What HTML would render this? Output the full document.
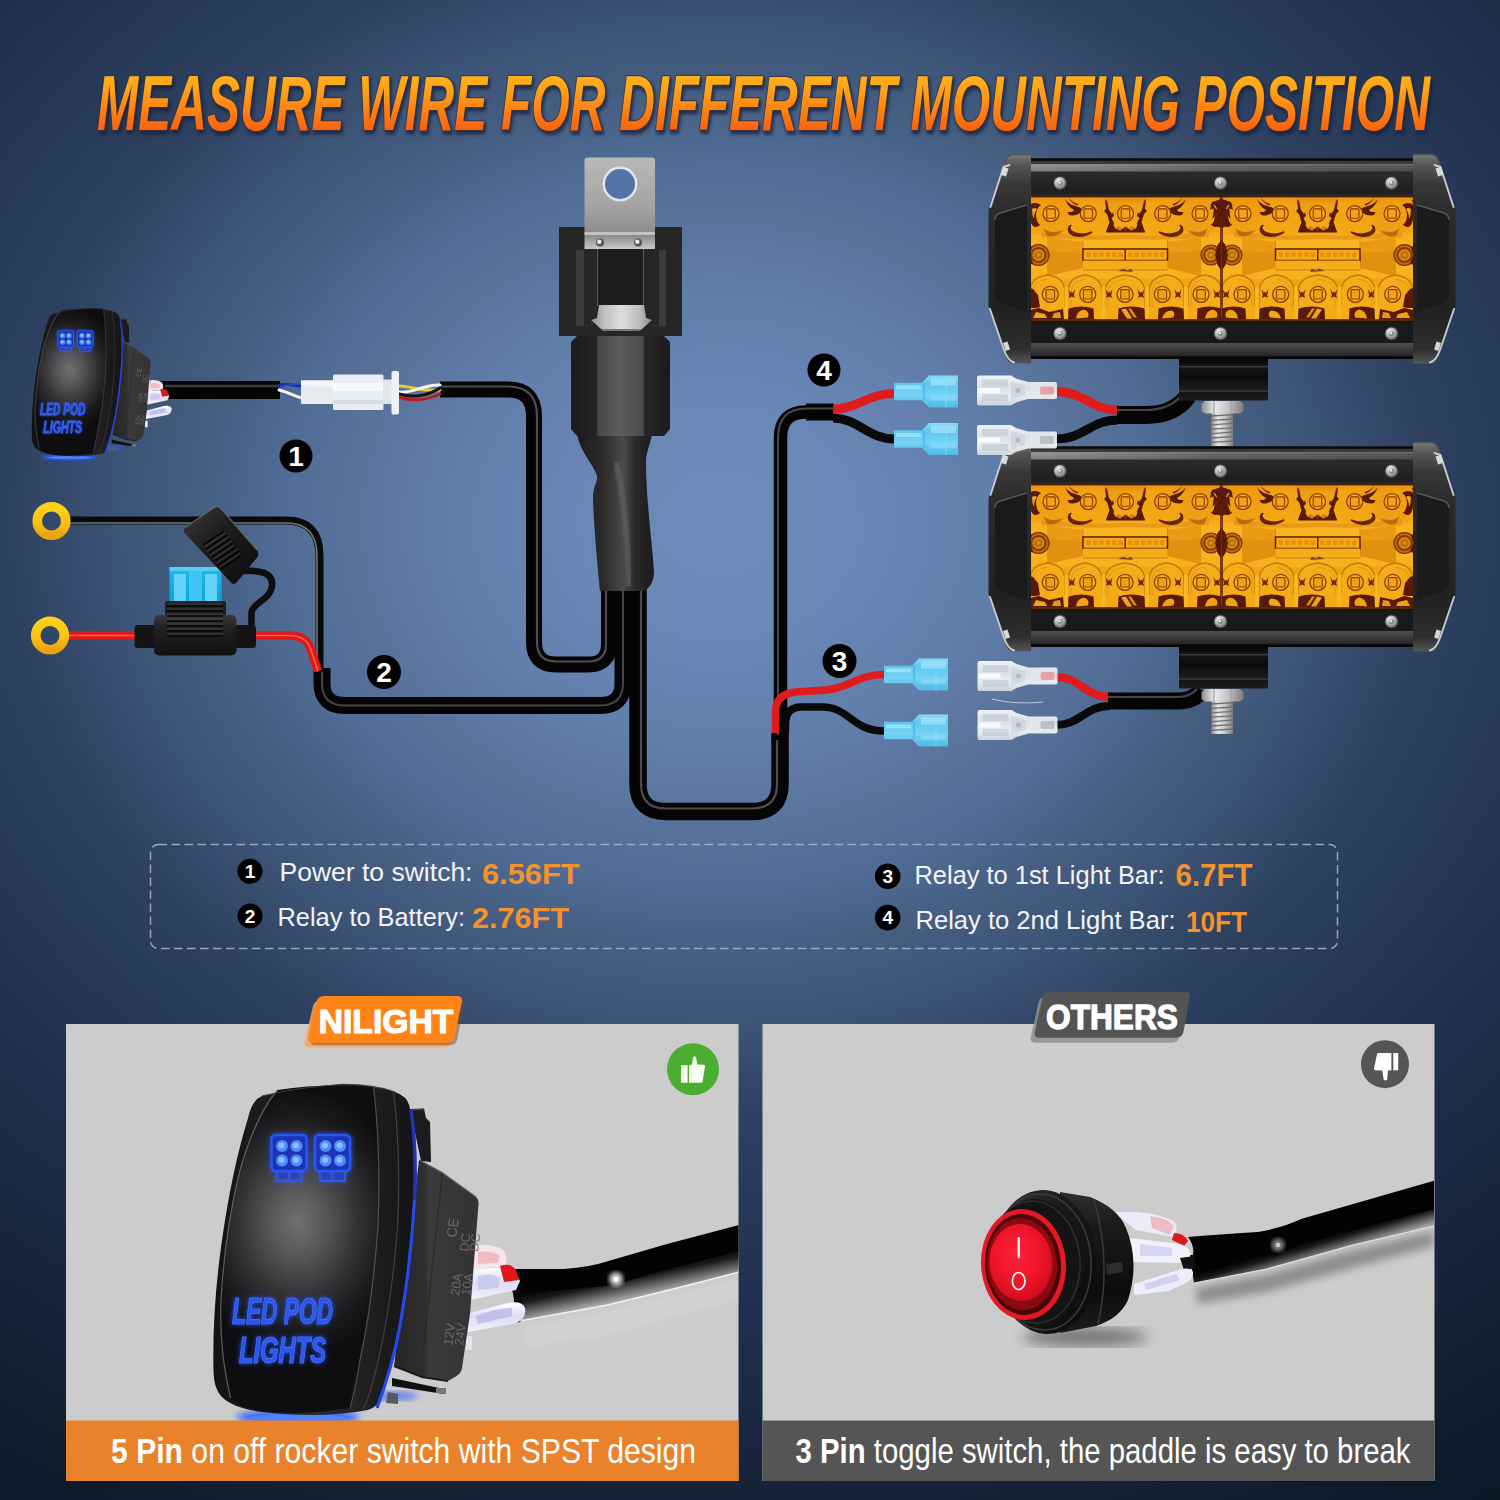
<!DOCTYPE html>
<html><head><meta charset="utf-8"><title>Measure wire for different mounting position</title>
<style>
html,body{margin:0;padding:0;background:#1c2d4a;}
body{width:1500px;height:1500px;overflow:hidden;font-family:"Liberation Sans",sans-serif;}
svg{display:block;font-family:"Liberation Sans",sans-serif;}
</style></head>
<body>
<svg width="1500" height="1500" viewBox="0 0 1500 1500">

<!-- 01_bg.svg -->
<defs>
<radialGradient id="bgG" gradientUnits="userSpaceOnUse" cx="0" cy="0" r="1200" gradientTransform="translate(720,523) scale(1.2,1)">
<stop offset="0.0000" stop-color="rgb(110, 138, 185)"/>
<stop offset="0.0833" stop-color="rgb(108, 136, 183)"/>
<stop offset="0.1858" stop-color="rgb(98, 126, 171)"/>
<stop offset="0.2600" stop-color="rgb(88, 114, 154)"/>
<stop offset="0.3025" stop-color="rgb(81, 109, 150)"/>
<stop offset="0.3642" stop-color="rgb(69, 93, 128)"/>
<stop offset="0.4192" stop-color="rgb(60, 84, 118)"/>
<stop offset="0.4908" stop-color="rgb(46, 65, 96)"/>
<stop offset="0.6633" stop-color="rgb(29, 47, 76)"/>
<stop offset="0.8058" stop-color="rgb(22, 36, 56)"/>
<stop offset="0.9125" stop-color="rgb(14, 27, 42)"/>
<stop offset="1.0000" stop-color="rgb(12, 23, 37)"/>
</radialGradient>
</defs>
<rect x="0" y="0" width="1500" height="1500" fill="url(#bgG)"/>

<!-- 10_title.svg -->
<defs>
<linearGradient id="ttlG" gradientUnits="userSpaceOnUse" x1="0" y1="0" x2="0" y2="57.0"><stop offset="0" stop-color="#ffb41c"/><stop offset=".3" stop-color="#ffa218"/><stop offset=".65" stop-color="#ff8212"/><stop offset="1" stop-color="#fa620e"/></linearGradient>
<filter id="ttlSh" x="-2%" y="-20%" width="104%" height="150%"><feGaussianBlur stdDeviation="1.6"/></filter>
<g id="ttl"><g transform="translate(0,73)"><text x="97" y="57" font-family="'Liberation Sans', sans-serif" font-size="78" font-weight="bold" font-style="italic" textLength="1333" lengthAdjust="spacingAndGlyphs">MEASURE WIRE FOR DIFFERENT MOUNTING POSITION</text></g></g>
</defs>
<use href="#ttl" fill="#13203c" stroke="#13203c" stroke-width="3" stroke-linejoin="round" opacity=".75" transform="translate(1.5,3)" filter="url(#ttlSh)"/>
<use href="#ttl" fill="#3a3340" stroke="#3a3340" stroke-width="2.4" stroke-linejoin="round" opacity=".8"/>
<use href="#ttl" fill="url(#ttlG)" />

<!-- 20_wires.svg -->
<defs>
<linearGradient id="cabV" x1="0" x2="1" y1="0" y2="0"><stop offset="0" stop-color="#000"/><stop offset=".5" stop-color="#3a3a3a"/><stop offset="1" stop-color="#000"/></linearGradient>
</defs>
<g fill="none" stroke-linecap="butt" stroke-linejoin="round">
<!-- cable from switch to connector -->
<path d="M160,390 L280,390" stroke="#050505" stroke-width="18"/>
<path d="M165,386 L279,386" stroke="#555" stroke-width="2.5" opacity=".7"/>
<!-- cable from connector to relay (loop) -->
<path id="cabA" d="M440,389.5 L508,389.5 Q534,389.5 534,416 L534,642 Q534,664.5 556,664.5 L588,664.5 Q609,664.5 609,644 L609,585" stroke="#050505" stroke-width="16"/>
<path d="M440,386.5 L508,386.5 Q537,386.5 537,416 L537,642 Q537,661.5 556,661.5 L588,661.5 Q606,661.5 606,644 L606,585" stroke="#666" stroke-width="2.2" opacity=".75"/>
<!-- cable 2 (battery) -->
<path d="M322,668 L322,683 Q322,705.5 345,705.5 L600,705.5 Q623,705.5 623,683 L623,585" stroke="#050505" stroke-width="17"/>
<path d="M322,668 L322,683 Q322,705.5 345,705.5 L600,705.5 Q623,705.5 623,683 L623,585" stroke="#555" stroke-width="2" opacity=".8"/>
<!-- cable to lights -->
<path d="M780.5,740 L780.5,438 Q780.5,412 806,412 L834,412" stroke="#050505" stroke-width="13.5"/>
<path d="M806,412 L834,412" stroke="#050505" stroke-width="17"/>
<path d="M638,583 L638,784 Q638,811.5 666,811.5 L752,811.5 Q780,811.5 780,784 L780,733" stroke="#050505" stroke-width="17.5"/>
<path d="M641,583 L641,784 Q641,808.5 666,808.5 L752,808.5 Q777,808.5 777,784 L777,740" stroke="#666" stroke-width="2.2" opacity=".75"/>
<path d="M778,735 L778,438 Q778,409 806,408.5 L834,408.5" stroke="#666" stroke-width="2" opacity=".7"/>
<!-- ring-terminal black wire -->
<path d="M70,520.5 L286,520.5 Q319.5,520.5 319.5,556 L319.5,672" stroke="#0a0a0a" stroke-width="8"/>
<path d="M70,523 L286,523 Q317,523 317,556 L317,672" stroke="#9aa" stroke-width="1.6" opacity=".7"/>
<!-- red fuse wire -->
<path d="M68,635.5 L136,635.5 M255,635.5 L290,635.5 Q307,636 311,650 L318,671" stroke="#e01818" stroke-width="8.5"/>
<path d="M68,635.5 L136,635.5 M255,635.5 L290,635.5 Q307,636 311,650 L318,671" stroke="#ff7060" stroke-width="1.6" opacity=".8"/>
<!-- group 4 split wires -->
<path d="M833,409 C858,409 868,393.5 894,393.5" stroke="#e01b1b" stroke-width="9"/>
<path d="M833,418 C858,418 868,439 894,439" stroke="#0a0a0a" stroke-width="9"/>
<path d="M1055,391.5 C1085,391.5 1090,410 1118,410" stroke="#e01b1b" stroke-width="9"/>
<path d="M1055,439 C1085,439 1090,420 1118,420" stroke="#0a0a0a" stroke-width="9"/>
<path d="M1117,415 L1146,415 Q1174,415 1188,396" stroke="#050505" stroke-width="18"/>
<path d="M1117,410 L1146,410 Q1168,410 1180,397" stroke="#555" stroke-width="2.2" opacity=".8"/>
<!-- group 3 split wires -->
<path d="M775.5,733 L775.5,712 Q775.5,694 796,692 L826,690 C850,688 858,674.5 884,674.5" stroke="#e01b1b" stroke-width="7.5"/>
<path d="M785.5,733 L785.5,722 Q786,708 800,707 L822,707 C850,707 852,731 884,731" stroke="#0a0a0a" stroke-width="7.5"/>
<path d="M1056,677 C1080,677 1085,697 1110,697" stroke="#e01b1b" stroke-width="8"/>
<path d="M1056,725 C1080,725 1085,706 1110,706" stroke="#0a0a0a" stroke-width="8"/>
<path d="M1108,701 L1178,701 Q1194,701 1202,690" stroke="#050505" stroke-width="17"/>
<path d="M1108,697 L1178,697 Q1190,697 1197,689" stroke="#555" stroke-width="2.2" opacity=".8"/>
</g>

<!-- 30_relay.svg -->
<defs>
<linearGradient id="tabG" x1="0" x2="0" y1="0" y2="1"><stop offset="0" stop-color="#b9b9b7"/><stop offset=".55" stop-color="#a3a3a1"/><stop offset=".85" stop-color="#8a8a88"/><stop offset="1" stop-color="#c9c9c7"/></linearGradient>
<linearGradient id="lowG" x1="0" x2="1" y1="0" y2="0"><stop offset="0" stop-color="#1c1c1c"/><stop offset=".26" stop-color="#252525"/><stop offset=".27" stop-color="#474747"/><stop offset=".5" stop-color="#5c5c5c"/><stop offset=".73" stop-color="#4a4a4a"/><stop offset=".74" stop-color="#262626"/><stop offset="1" stop-color="#1b1b1b"/></linearGradient>
<linearGradient id="shG" x1="0" x2="1" y1="0" y2="0"><stop offset="0" stop-color="#1d1d1d"/><stop offset=".35" stop-color="#2b2b2b"/><stop offset=".6" stop-color="#4a4a4a"/><stop offset=".75" stop-color="#2a2a2a"/><stop offset="1" stop-color="#1a1a1a"/></linearGradient>
<linearGradient id="silG" x1="0" x2="1" y1="0" y2="0"><stop offset="0" stop-color="#8e8e8e"/><stop offset=".2" stop-color="#bdbdbd"/><stop offset=".5" stop-color="#dedede"/><stop offset=".8" stop-color="#bcbcbc"/><stop offset="1" stop-color="#8a8a8a"/></linearGradient>
</defs>
<g>
<!-- sheath -->
<path d="M577,434 L652,434 C650,446 646,452 646,462 C646,500 652,540 654,572 C654,580 651,586 645,591 L600,591 C598,570 594,530 593,498 C593,486 598,482 597,476 C592,462 580,452 577,434 Z" fill="url(#shG)"/>
<path d="M616,462 C625,500 628,540 629,586" stroke="#666" stroke-width="6" fill="none" opacity=".6" filter="url(#blur1)"/>
<!-- lower body -->
<path d="M571,342 L577,336 L664,336 L670,342 L670,429 L664,436 L577,436 L571,429 Z" fill="url(#lowG)"/>
<path d="M597,340 L643,340 L643,437 L597,437 Z" fill="none"/>
<!-- upper body -->
<rect x="559" y="227" width="123" height="109" fill="#262626"/>
<rect x="576" y="250" width="8" height="76" fill="#3c3c3c"/>
<rect x="659" y="250" width="7" height="76" fill="#3c3c3c"/>
<rect x="597" y="249" width="47" height="57" fill="#1d1d1d"/>
<path d="M597.5,249 L597.5,306 M643.5,249 L643.5,306" stroke="#5a5a5a" stroke-width="1"/>
<path d="M576,326 L592,326 L592,322 M666,326 L650,326" stroke="#333" stroke-width="1" fill="none"/>
<!-- silver contact -->
<path d="M599,305 L644,305 L646,318 L652,320 L642,329 L601,329 L591,320 L597,318 Z" fill="url(#silG)"/>
<path d="M601,329 L642,329 L640,331 L603,331 Z" fill="#777"/>
<!-- metal tab -->
<path d="M584.5,160 Q584.5,157.5 587,157.5 L652.5,157.5 Q655,157.5 655,160 L655,249 L584.5,249 Z" fill="url(#tabG)"/>
<rect x="584.5" y="232" width="70.5" height="3" fill="#d8d8d6" opacity=".7"/>
<circle cx="620" cy="184" r="17.5" fill="#dfe6f2"/>
<circle cx="620" cy="184" r="15" fill="#5473a6"/>
<circle cx="600" cy="242.5" r="4" fill="#555"/><circle cx="599.3" cy="241.8" r="2.2" fill="#e8e8e8"/>
<circle cx="638" cy="242.5" r="4" fill="#555"/><circle cx="637.3" cy="241.8" r="2.2" fill="#e8e8e8"/>
</g>

<!-- 32_fuse.svg -->
<defs>
<linearGradient id="ringG" x1="0" x2="0" y1="0" y2="1"><stop offset="0" stop-color="#ffd21a"/><stop offset=".6" stop-color="#fcc012"/><stop offset="1" stop-color="#e9a30c"/></linearGradient>
<linearGradient id="fuseB" x1="0" x2="0" y1="0" y2="1"><stop offset="0" stop-color="#22b8ee"/><stop offset="1" stop-color="#0aa2dc"/></linearGradient>
<linearGradient id="holdG" x1="0" x2="0" y1="0" y2="1"><stop offset="0" stop-color="#3a3a3a"/><stop offset=".3" stop-color="#222"/><stop offset="1" stop-color="#111"/></linearGradient>
<linearGradient id="capG" x1="0" x2="1" y1="0" y2="1"><stop offset="0" stop-color="#3c3c3c"/><stop offset=".4" stop-color="#1e1e1e"/><stop offset="1" stop-color="#0c0c0c"/></linearGradient>
</defs>
<g>
<!-- ring terminals -->
<circle cx="51.5" cy="521" r="14.3" fill="none" stroke="url(#ringG)" stroke-width="9.6"/>
<circle cx="50" cy="635.5" r="14.3" fill="none" stroke="url(#ringG)" stroke-width="9.6"/>
<!-- tether -->
<path d="M243,571 C258,570 274,572 272,586 C270,600 254,602 251.5,612 L251.5,628" fill="none" stroke="#0d0d0d" stroke-width="6.5" stroke-linecap="round"/>
<!-- blue fuse -->
<rect x="169.5" y="567" width="52" height="36" rx="2" fill="url(#fuseB)"/>
<rect x="174" y="574" width="12" height="29" fill="#63d4f8"/>
<rect x="205" y="574" width="12" height="29" fill="#63d4f8"/>
<rect x="189" y="570" width="13" height="33" fill="#3ec5f2"/>
<rect x="169.5" y="567" width="52" height="4" fill="#55cdf5"/>
<!-- holder neck -->
<rect x="165" y="601" width="61" height="16" rx="2" fill="#1f1f1f"/>
<!-- holder body -->
<rect x="134.5" y="625" width="22" height="23" rx="3" fill="#141414"/>
<rect x="234" y="625" width="22" height="23" rx="3" fill="#141414"/>
<rect x="154" y="615" width="82.5" height="40.5" rx="5" fill="url(#holdG)"/>
<g stroke="#050505" stroke-width="1.6">
<path d="M167,606 H223 M167,611 H223 M167,616 H223 M167,621 H223 M167,626 H223 M167,631 H223 M167,636 H223"/>
</g>
<g stroke="#4a4a4a" stroke-width="1" opacity=".8">
<path d="M167,604 H223 M167,609 H223 M167,614 H223 M167,619 H223 M167,624 H223 M167,629 H223 M167,634 H223"/>
</g>
<!-- cap -->
<path d="M186,527 L214,507.5 Q218,505 221,508.5 L257,550 Q259.5,553.5 257.5,557 L237,582 Q233.5,586 230.5,582 L184.5,533 Q182.5,529.5 186,527 Z" fill="url(#capG)"/>
<path d="M186,527 L214,507.5 Q218,505 221,508.5 L257,550" fill="none" stroke="#6a6a6a" stroke-width="1.5" opacity=".8"/>
<g stroke="#000" stroke-width="1.4"><path d="M203,545 L224,531 M206,549 L227,535 M209,553 L230,539 M212,557 L233,543 M215,561 L236,547 M218,565 L239,551 M221,569 L241,556"/></g>
<g stroke="#454545" stroke-width=".9"><path d="M204.5,547 L225.5,533 M207.5,551 L228.5,537 M210.5,555 L231.5,541 M213.5,559 L234.5,545 M216.5,563 L237.5,549 M219.5,567 L240,553.5"/></g>
</g>

<!-- 34_conn.svg -->
<g fill="none" stroke-linecap="round">
<!-- left small wires -->
<path d="M279,385 C288,383 294,386 302,386" stroke="#1a2ea0" stroke-width="2.6"/>
<path d="M279,388 C288,384 294,384 302,384" stroke="#2b49d8" stroke-width="1.6"/>
<path d="M279,390 C288,392 294,396 302,398" stroke="#f5f5f5" stroke-width="3"/>
<!-- right wires -->
<path d="M399,386 C412,386 420,392 440,390" stroke="#e8d020" stroke-width="3"/>
<path d="M399,392 C412,394 424,384 440,385" stroke="#f4f4f4" stroke-width="3"/>
<path d="M399,394 C412,398 428,396 440,388" stroke="#151515" stroke-width="3.2"/>
<path d="M399,397 C412,402 428,400 440,394" stroke="#b81c1c" stroke-width="3"/>
</g>
<g>
<rect x="301" y="380.5" width="33" height="23.5" rx="1.5" fill="#e6ebef"/>
<rect x="301" y="380.5" width="33" height="6" fill="#f4f7f9"/>
<rect x="333" y="374.5" width="50.5" height="35.5" rx="1.5" fill="#eaeef2"/>
<rect x="333" y="383" width="50.5" height="8" fill="#f7f9fb"/>
<rect x="333" y="400" width="50.5" height="4" fill="#d7dde3"/>
<rect x="383" y="379.5" width="13" height="24.5" fill="#dfe5ea"/>
<rect x="391.5" y="371" width="7.5" height="43.5" rx="2" fill="#eef2f5"/>
</g>

<!-- 36_smallswitch.svg -->
<defs>
<radialGradient id="swFace" gradientUnits="userSpaceOnUse" cx="298" cy="1222" r="135" gradientTransform="translate(298,1222) scale(.8,1) translate(-298,-1222)"><stop offset="0" stop-color="#707072"/><stop offset=".25" stop-color="#58585a"/><stop offset=".55" stop-color="#333335"/><stop offset=".8" stop-color="#1a1a1c"/><stop offset="1" stop-color="#0e0e10"/></radialGradient>
<linearGradient id="swBez" x1="0" x2="1" y1="0" y2="0"><stop offset="0" stop-color="#121214"/><stop offset=".55" stop-color="#2a2a2c"/><stop offset="1" stop-color="#141416"/></linearGradient>
<linearGradient id="swBody" x1="0" x2="1" y1="0" y2="0"><stop offset="0" stop-color="#262626"/><stop offset=".38" stop-color="#2f2f2f"/><stop offset=".4" stop-color="#3a3a3a"/><stop offset="1" stop-color="#333333"/></linearGradient>
<linearGradient id="termG" x1="0" x2="0" y1="0" y2="1"><stop offset="0" stop-color="#ffffff"/><stop offset=".5" stop-color="#dcdcf4"/><stop offset="1" stop-color="#f4f4ff"/></linearGradient>
<filter id="blur2"><feGaussianBlur stdDeviation="2.2"/></filter>
<filter id="blur1"><feGaussianBlur stdDeviation="0.9"/></filter>
<filter id="blur3"><feGaussianBlur stdDeviation="3.5"/></filter>
<filter id="glowB" x="-20%" y="-20%" width="140%" height="140%"><feGaussianBlur stdDeviation="2.5" result="b"/><feMerge><feMergeNode in="b"/><feMergeNode in="SourceGraphic"/></feMerge></filter>
<g id="podIcon">
  <rect x="0" y="0" width="35" height="36" rx="4" fill="#1b36b4" stroke="#2c56f2" stroke-width="2.4"/>
  <path d="M5,36 L5,46 L30,46 L30,36 M17.5,36 L17.5,46" fill="none" stroke="#2c56f2" stroke-width="2"/>
  <rect x="8" y="39" width="7" height="4" fill="#2140c8"/><rect x="20" y="39" width="7" height="4" fill="#2140c8"/>
  <g fill="#4f8cff"><circle cx="10.5" cy="11" r="6"/><circle cx="25" cy="11" r="6"/><circle cx="10.5" cy="25.5" r="6"/><circle cx="25" cy="25.5" r="6"/></g>
  <g fill="#8fc0ff"><circle cx="10" cy="10.5" r="3"/><circle cx="24.5" cy="10.5" r="3"/><circle cx="10" cy="25" r="3"/><circle cx="24.5" cy="25" r="3"/></g>
</g>
<g id="rockerBig">
  <!-- glow under -->
  <ellipse cx="298" cy="1417" rx="62" ry="7" fill="#2a5cff" filter="url(#blur3)"/>
  <ellipse cx="298" cy="1417.5" rx="48" ry="3.2" fill="#4f86ff"/>
  <ellipse cx="392" cy="1396" rx="26" ry="5" fill="#2a5cff" opacity=".65" filter="url(#blur3)"/>
  <!-- terminals -->
  <path d="M472,1246 Q492,1243 503,1250 Q509,1256 505,1266 L472,1270 Z" fill="#f6e6ea"/>
  <path d="M478,1252 Q492,1250 500,1256 L498,1263 L478,1264 Z" fill="#f0b0b8" opacity=".8"/>
  <path d="M470,1270 L504,1267 Q516,1271 520,1281 L516,1290 L470,1300 Z" fill="url(#termG)"/>
  <path d="M500,1266 Q510,1262 516,1270 L519,1280 L504,1282 Z" fill="#e01818"/>
  <path d="M478,1276 Q492,1272 500,1278 L498,1288 L478,1290 Z" fill="#c6c6ee" opacity=".8"/>
  <path d="M466,1314 L508,1303 Q522,1300 525,1308 Q527,1318 516,1323 L468,1332 Z" fill="url(#termG)"/>
  <path d="M476,1316 Q496,1308 512,1308 L512,1316 L478,1324 Z" fill="#b8b8e8" opacity=".8"/>
  <path d="M468,1201 L474,1201 L474,1214 L468,1214 Z M466,1336 L472,1336 L472,1350 L466,1350 Z" fill="#e4e4ea"/>
  <!-- flange / clips behind bezel -->
  <path d="M410,1109 L424,1108.5 L426,1118 L430,1122 L431,1162 L421,1161 Z" fill="#1c1c1e"/>
  <path d="M412,1110 L424,1109" stroke="#555" stroke-width="1.2"/>
  <!-- rear body -->
  <path d="M419,1160 L442,1172.5 L476,1197 Q479,1199 478.5,1204 L470,1314 L462,1368 Q461,1374 455,1377 L448,1381 L422,1377 L394,1366 Z" fill="url(#swBody)"/>
  <path d="M442.5,1173 L421,1371" stroke="#2a2a2a" stroke-width="1.4"/>
  <path d="M419,1160 L442,1172.5 L476,1197" fill="none" stroke="#5a5a5a" stroke-width="1.3"/>
  <path d="M394,1366 L422,1377 L448,1381" fill="none" stroke="#1a1a1a" stroke-width="2"/>
  <!-- feet -->
  <path d="M392,1378 L444,1389 L444,1394 L392,1386 Z" fill="#101010"/>
  <path d="M388,1392 L398,1394 L398,1404 L386,1403 Z" fill="#5a5a5a"/>
  <path d="M436,1388 L446,1388 L446,1394 L436,1393 Z" fill="#777"/>
  <!-- side text -->
  <g font-family="Liberation Sans, sans-serif" font-size="14" fill="#6c6c6c" opacity=".95">
    <text transform="translate(456,1238) rotate(-82)">CE</text>
    <text transform="translate(468,1252) rotate(-82)" font-size="12.5">DC</text>
    <text transform="translate(478,1252) rotate(-82)" font-size="12.5">DC</text>
    <text transform="translate(459,1296) rotate(-82)" font-size="12.5">20A</text>
    <text transform="translate(470,1296) rotate(-82)" font-size="12.5">10A</text>
    <text transform="translate(452,1346) rotate(-82)" font-size="12.5">12V</text>
    <text transform="translate(463,1346) rotate(-82)" font-size="12.5">24V</text>
  </g>
  <!-- bezel -->
  <path d="M262,1096 Q300,1087 340,1084.5 Q372,1084 395,1092 Q407,1096 409.5,1106 Q416,1150 413.5,1200 Q410,1260 399,1325 Q392,1365 382,1396 Q378,1407 368,1410 Q320,1419 262,1412 Q232,1408 221,1396 Q214,1388 213.5,1372 Q212,1310 222,1240 Q232,1170 248,1118 Q252,1100 262,1096 Z" fill="url(#swBez)"/>
  <!-- rocker face -->
  <path d="M277.5,1090 Q320,1083.5 373.5,1086.5 Q381,1150 378,1225 Q373,1300 360,1360 Q355,1390 350,1408 Q300,1416 262,1411.5 Q240,1408 230.5,1398 Q219,1350 221,1300 Q225,1230 240,1170 Q256,1115 277.5,1090 Z" fill="url(#swFace)"/>
  <path d="M277.5,1090 Q256,1115 240,1170 Q225,1230 221,1300 Q219,1350 230.5,1398" fill="none" stroke="#77777b" stroke-width="1.2" opacity=".75"/>
  <path d="M373.5,1086.5 Q381,1150 378,1225 Q373,1300 360,1360 Q355,1390 350,1408" fill="none" stroke="#5e5e62" stroke-width="1.2" opacity=".8"/>
  <path d="M393.5,1092.5 Q401,1150 397.5,1228 Q392,1300 378,1362 Q371,1392 363,1410.5" fill="none" stroke="#4a4a4e" stroke-width="1.2" opacity=".8"/>
  <path d="M262,1096 Q300,1087 340,1084.5 Q372,1084 395,1092" fill="none" stroke="#3c3c40" stroke-width="1.2"/>
  <!-- blue edge -->
  <path d="M411,1110 Q417,1150 414.5,1200 Q411,1262 400,1326 Q392,1368 377,1408" fill="none" stroke="#2448ea" stroke-width="3.2"/>
  <path d="M411,1110 Q417,1150 414.5,1200" fill="none" stroke="#1a2a90" stroke-width="3.2" opacity=".6"/>
  <!-- icons -->
  <g filter="url(#glowB)">
  <use href="#podIcon" transform="translate(271.5,1135)"/>
  <use href="#podIcon" transform="translate(315,1135)"/>
  </g>
  <g filter="url(#glowB)" font-family="Liberation Sans, sans-serif" font-weight="bold" font-style="italic" fill="#2b56f6" stroke="#1d3fd0" stroke-width="1.1" font-size="36">
   <text x="232" y="1324" textLength="101" lengthAdjust="spacingAndGlyphs">LED POD</text>
   <text x="239" y="1362.5" textLength="87" lengthAdjust="spacingAndGlyphs">LIGHTS</text>
  </g>
  <g font-family="Liberation Sans, sans-serif" font-weight="bold" font-style="italic" fill="none" stroke="#6f9cff" stroke-width=".7" font-size="36" opacity=".8">
   <text x="232" y="1324" textLength="101" lengthAdjust="spacingAndGlyphs">LED POD</text>
   <text x="239" y="1362.5" textLength="87" lengthAdjust="spacingAndGlyphs">LIGHTS</text>
  </g>
</g>
</defs>
<use href="#rockerBig" transform="translate(-63.95,-178.2) scale(.4484)"/>

<!-- 40_bars.svg -->
<defs>
<linearGradient id="lensG" x1="0" x2="0" y1="0" y2="1"><stop offset="0" stop-color="#d98a0c"/><stop offset=".08" stop-color="#f0a012"/><stop offset=".35" stop-color="#f6aa16"/><stop offset=".5" stop-color="#f9b41c"/><stop offset=".65" stop-color="#f3a614"/><stop offset=".92" stop-color="#ec9a10"/><stop offset="1" stop-color="#cc7c08"/></linearGradient>
<linearGradient id="bandT" x1="0" x2="0" y1="0" y2="1"><stop offset="0" stop-color="#060606"/><stop offset=".05" stop-color="#0a0a0a"/><stop offset=".07" stop-color="#343434"/><stop offset=".15" stop-color="#3e3e3e"/><stop offset=".16" stop-color="#858585"/><stop offset=".34" stop-color="#6a6a6a"/><stop offset=".36" stop-color="#2b2b2b"/><stop offset=".95" stop-color="#1e1e1e"/><stop offset="1" stop-color="#3a3a3a"/></linearGradient><linearGradient id="bandTx" x1="0" x2="1" y1="0" y2="0"><stop offset="0" stop-color="#fff" stop-opacity=".16"/><stop offset=".5" stop-color="#000" stop-opacity=".18"/><stop offset="1" stop-color="#000" stop-opacity=".3"/></linearGradient>
<linearGradient id="bandB" x1="0" x2="0" y1="0" y2="1"><stop offset="0" stop-color="#0c0c0c"/><stop offset=".06" stop-color="#1a1a1a"/><stop offset=".58" stop-color="#181818"/><stop offset=".6" stop-color="#4d4d4d"/><stop offset=".75" stop-color="#3c3c3c"/><stop offset=".92" stop-color="#262626"/><stop offset=".94" stop-color="#080808"/><stop offset="1" stop-color="#050505"/></linearGradient>
<linearGradient id="capG2" x1="0" x2="0" y1="0" y2="1"><stop offset="0" stop-color="#7a7a7a"/><stop offset=".05" stop-color="#555"/><stop offset=".14" stop-color="#383838"/><stop offset=".3" stop-color="#2a2a2a"/><stop offset=".75" stop-color="#222"/><stop offset=".93" stop-color="#2e2e2e"/><stop offset="1" stop-color="#555"/></linearGradient>
<linearGradient id="mntG" x1="0" x2="0" y1="0" y2="1"><stop offset="0" stop-color="#050505"/><stop offset=".2" stop-color="#0a0a0a"/><stop offset=".3" stop-color="#161616"/><stop offset=".5" stop-color="#0b0b0b"/><stop offset=".75" stop-color="#1c1c1c"/><stop offset=".82" stop-color="#141414"/><stop offset="1" stop-color="#1e1e1e"/></linearGradient>
<linearGradient id="boltG" x1="0" x2="1" y1="0" y2="0"><stop offset="0" stop-color="#8d8d8d"/><stop offset=".3" stop-color="#e9e9e9"/><stop offset=".6" stop-color="#c9c9c9"/><stop offset="1" stop-color="#7c7c7c"/></linearGradient>
<radialGradient id="scrG" cx=".4" cy=".35" r=".7"><stop offset="0" stop-color="#ffffff"/><stop offset=".5" stop-color="#b5b5b5"/><stop offset="1" stop-color="#6a6a6a"/></radialGradient>
<radialGradient id="spotG" cx=".5" cy=".5" r=".5"><stop offset="0" stop-color="#f0a010"/><stop offset=".3" stop-color="#b86008"/><stop offset=".45" stop-color="#e89810"/><stop offset=".62" stop-color="#7a2c08"/><stop offset=".8" stop-color="#c87810"/><stop offset="1" stop-color="#5a1a08"/></radialGradient>
<g id="halfLens"><rect x="0" y="0" width="194.5" height="126" fill="url(#lensG)"/><rect x="0" y="40" width="194.5" height="44" fill="#fab826" opacity=".55"/><path d="M20,42.5 L56,47 L56,73 L20,81 Z" fill="#e4920f" opacity=".75"/><path d="M20,56 L56,58 L56,73 L20,81 Z" fill="#d8860e" opacity=".45"/><path d="M140.5,47 L174,42.5 L174,81 L140.5,73 Z" fill="#e4920f" opacity=".75"/><path d="M140.5,58 L174,56 L174,81 L140.5,73 Z" fill="#d8860e" opacity=".45"/><path d="M14,37 Q60,42 98.5,40 Q137,42 182,37 L182,42 Q137,46 98.5,44 Q60,46 14,42 Z" fill="#d8860e" opacity=".55"/><g><path d="M7.0,2 H41.0 V30 Q39.0,39 24,40 Q9.0,39 7.0,30 Z" fill="#ee9c12" opacity="0.6"/><path d="M43.3,2 H79.3 V30 Q77.3,39 61.3,40 Q45.3,39 43.3,30 Z" fill="#f3a616" opacity="0.5"/><path d="M2,10 Q8,6 14,10 Q10,12 9,19 Q9,27 13,30 Q7,35 4,28 Q1,19 2,10 Z" fill="#5a1a0a"/><path d="M5,14 Q8,12 10,14 Q7,18 7,24 Q5,20 5,14 Z" fill="#f0a516"/><path d="M0,4 L4,5 L3,9 L0,10 Z" fill="#5a1a0a"/><path d="M38,4 Q42,10 50,11.5 Q55.5,12.5 54.5,16 Q51,21 43.5,20.5 Q40,19 41,17 Q46,17.5 47,15 Q41,12 38,4 Z" fill="#5a1a0a"/><path d="M42,3 Q46,8 52,9 L50,10.5 Q45,9 42,3 Z" fill="#5a1a0a" opacity=".8"/><path d="M45,30 Q42,33 45.5,36 Q54,40.5 64,36.5 Q66,35.5 65,38 Q56,44 46,41 Q39,38 41,32 Q42.5,29 45,30 Z" fill="#5a1a0a" opacity=".92"/><path d="M16,33 Q24,40 36,35 Q30,43 20,41 Z" fill="#a8560a" opacity=".7"/><path d="M78,4 L80,6 L82,15 L85,19 L86,17 L87,21 L84.5,23 L87,28 L85,37 L79,37 L82.5,27 L80,19 L77,16 L79,14 Z" fill="#5a1a0a"/><path d="M79,37.5 L84,25 L88,33 L93,35.5 L98.5,31.5 L98.5,37.5 Z" fill="#5a1a0a"/><path d="M88,33 L93,31 L95,34 L93,35.5 Z" fill="#c9780c" opacity=".8"/></g><g transform="translate(197,0) scale(-1,1)"><path d="M7.0,2 H41.0 V30 Q39.0,39 24,40 Q9.0,39 7.0,30 Z" fill="#ee9c12" opacity="0.6"/><path d="M43.3,2 H79.3 V30 Q77.3,39 61.3,40 Q45.3,39 43.3,30 Z" fill="#f3a616" opacity="0.5"/><path d="M2,10 Q8,6 14,10 Q10,12 9,19 Q9,27 13,30 Q7,35 4,28 Q1,19 2,10 Z" fill="#5a1a0a"/><path d="M5,14 Q8,12 10,14 Q7,18 7,24 Q5,20 5,14 Z" fill="#f0a516"/><path d="M0,4 L4,5 L3,9 L0,10 Z" fill="#5a1a0a"/><path d="M38,4 Q42,10 50,11.5 Q55.5,12.5 54.5,16 Q51,21 43.5,20.5 Q40,19 41,17 Q46,17.5 47,15 Q41,12 38,4 Z" fill="#5a1a0a"/><path d="M42,3 Q46,8 52,9 L50,10.5 Q45,9 42,3 Z" fill="#5a1a0a" opacity=".8"/><path d="M45,30 Q42,33 45.5,36 Q54,40.5 64,36.5 Q66,35.5 65,38 Q56,44 46,41 Q39,38 41,32 Q42.5,29 45,30 Z" fill="#5a1a0a" opacity=".92"/><path d="M16,33 Q24,40 36,35 Q30,43 20,41 Z" fill="#a8560a" opacity=".7"/><path d="M78,4 L80,6 L82,15 L85,19 L86,17 L87,21 L84.5,23 L87,28 L85,37 L79,37 L82.5,27 L80,19 L77,16 L79,14 Z" fill="#5a1a0a"/><path d="M79,37.5 L84,25 L88,33 L93,35.5 L98.5,31.5 L98.5,37.5 Z" fill="#5a1a0a"/><path d="M88,33 L93,31 L95,34 L93,35.5 Z" fill="#c9780c" opacity=".8"/></g><path d="M194.5,4 L185,7 L183,15 L187,13 L185.5,24 L189.5,19 L189,31 L194.5,33 Z" fill="#5a1a0a"/><path d="M186,9 Q190,11 190,15 L188,13 Z" fill="#e9a012"/><path d="M3,126 L3,96 Q4,82 20.5,80 Q37,82 38,96 L38,126 Z" fill="#f7ae1a" opacity=".85"/><path d="M3,112 L3,96 Q4,82 20.5,80 Q37,82 38,96 L38,112" fill="none" stroke="#b9690b" stroke-width="1.3" opacity=".8"/><path d="M6,112 L6,97 Q7,86 20.5,84" fill="none" stroke="#d8860e" stroke-width="1" opacity=".6"/><path d="M41,126 L41,96 Q42,82 58.0,80 Q74,82 75,96 L75,126 Z" fill="#f7ae1a" opacity=".85"/><path d="M41,112 L41,96 Q42,82 58.0,80 Q74,82 75,96 L75,112" fill="none" stroke="#b9690b" stroke-width="1.3" opacity=".8"/><path d="M44,112 L44,97 Q45,86 58.0,84" fill="none" stroke="#d8860e" stroke-width="1" opacity=".6"/><path d="M78,126 L78,96 Q79,82 98.0,80 Q117,82 118,96 L118,126 Z" fill="#f7ae1a" opacity=".85"/><path d="M78,112 L78,96 Q79,82 98.0,80 Q117,82 118,96 L118,112" fill="none" stroke="#b9690b" stroke-width="1.3" opacity=".8"/><path d="M81,112 L81,97 Q82,86 98.0,84" fill="none" stroke="#d8860e" stroke-width="1" opacity=".6"/><path d="M122,126 L122,96 Q123,82 139.5,80 Q156,82 157,96 L157,126 Z" fill="#f7ae1a" opacity=".85"/><path d="M122,112 L122,96 Q123,82 139.5,80 Q156,82 157,96 L157,112" fill="none" stroke="#b9690b" stroke-width="1.3" opacity=".8"/><path d="M125,112 L125,97 Q126,86 139.5,84" fill="none" stroke="#d8860e" stroke-width="1" opacity=".6"/><path d="M161,126 L161,96 Q162,82 177.75,80 Q193.5,82 194.5,96 L194.5,126 Z" fill="#f7ae1a" opacity=".85"/><path d="M161,112 L161,96 Q162,82 177.75,80 Q193.5,82 194.5,96 L194.5,112" fill="none" stroke="#b9690b" stroke-width="1.3" opacity=".8"/><path d="M164,112 L164,97 Q165,86 177.75,84" fill="none" stroke="#d8860e" stroke-width="1" opacity=".6"/><rect x="37.5" y="92" width="4" height="34" fill="#fbba26" opacity=".9"/><rect x="74.5" y="92" width="4" height="34" fill="#fbba26" opacity=".9"/><rect x="118" y="92" width="4" height="34" fill="#fbba26" opacity=".9"/><rect x="157" y="92" width="4" height="34" fill="#fbba26" opacity=".9"/><path d="M41.2,94 L43.7,98 L44.7,96.5 L45.7,98 L48.2,94 L46.900000000000006,100 L47.7,103 L44.7,101.5 L41.7,103 L42.5,100 Z" fill="#5a1a0a" opacity=".9"/><path d="M78.5,94 L81,98 L82,96.5 L83,98 L85.5,94 L84.2,100 L85,103 L82,101.5 L79,103 L79.8,100 Z" fill="#5a1a0a" opacity=".9"/><path d="M110.5,94 L113,98 L114,96.5 L115,98 L117.5,94 L116.2,100 L117,103 L114,101.5 L111,103 L111.8,100 Z" fill="#5a1a0a" opacity=".9"/><path d="M147.5,94 L150,98 L151,96.5 L152,98 L154.5,94 L153.2,100 L154,103 L151,101.5 L148,103 L148.8,100 Z" fill="#5a1a0a" opacity=".9"/><path d="M186.5,94 L189,98 L190,96.5 L191,98 L193.5,94 L192.2,100 L193,103 L190,101.5 L187,103 L187.8,100 Z" fill="#5a1a0a" opacity=".9"/><path d="M41,124.5 L41.5,113.5 Q54.0,109.5 66.5,113.5 L67,124.5 Z" fill="#5a1a0a"/><path d="M49,123.5 Q50,115.5 57,114.5 Q63,116.5 61,122.5 Z" fill="#eea414"/><path d="M91,124.5 L91.5,113.5 Q104.5,109.5 117.5,113.5 L118,124.5 Z" fill="#5a1a0a"/><path d="M94,114.5 L99,113.5 L105,123.5 L100,123.5 Z" fill="#eea414"/><path d="M101,113.5 L104,113.5 L110,122.5 L107,122.5 Z" fill="#d98f10"/><path d="M131,124.5 L131.5,113.5 Q144.0,109.5 156.5,113.5 L157,124.5 Z" fill="#5a1a0a"/><path d="M135,123.5 Q137,115.5 145,115.5 Q149,117.5 146,122.5 Z" fill="#eea414"/><path d="M170,124.5 L170.5,113.5 Q182.25,109.5 194.0,113.5 L194.5,124.5 Z" fill="#5a1a0a"/><path d="M178,123.5 Q179,115.5 186,114.5 Q192,116.5 190,122.5 Z" fill="#eea414"/><path d="M0,92 L6,94 L11,100 L13,112 L9,113 L0,113 Z" fill="#5a1a0a"/><path d="M2,124.5 L3,115 L12,113 L22,117 L36,114 L37,124.5 Z" fill="#5a1a0a"/><path d="M6,123 L9,117 L18,119 L20,123 Z" fill="#eea414"/><path d="M25,123 L27,118 L33,117 L34,123 Z" fill="#e39a12"/><circle cx="24" cy="18.6" r="8" fill="#f5aa18" stroke="#8a3c08" stroke-width="1.25"/><rect x="19.7" y="13.9" width="8.6" height="9.4" rx="1" fill="#f3a314" stroke="#8a3c08" stroke-width="1.1"/><circle cx="61.3" cy="18.6" r="8" fill="#f5aa18" stroke="#8a3c08" stroke-width="1.25"/><rect x="57.0" y="13.9" width="8.6" height="9.4" rx="1" fill="#f3a314" stroke="#8a3c08" stroke-width="1.1"/><circle cx="98.5" cy="18.6" r="8" fill="#f5aa18" stroke="#8a3c08" stroke-width="1.25"/><rect x="94.2" y="13.9" width="8.6" height="9.4" rx="1" fill="#f3a314" stroke="#8a3c08" stroke-width="1.1"/><circle cx="135.7" cy="18.6" r="8" fill="#f5aa18" stroke="#8a3c08" stroke-width="1.25"/><rect x="131.39999999999998" y="13.9" width="8.6" height="9.4" rx="1" fill="#f3a314" stroke="#8a3c08" stroke-width="1.1"/><circle cx="173" cy="18.6" r="8" fill="#f5aa18" stroke="#8a3c08" stroke-width="1.25"/><rect x="168.7" y="13.9" width="8.6" height="9.4" rx="1" fill="#f3a314" stroke="#8a3c08" stroke-width="1.1"/><circle cx="23.3" cy="99.3" r="8" fill="#f8b01c" stroke="#8a3c08" stroke-width="1.25"/><rect x="19.0" y="94.6" width="8.6" height="9.4" rx="1" fill="#f2a012" stroke="#8a3c08" stroke-width="1.1"/><circle cx="60.7" cy="99.3" r="8" fill="#f8b01c" stroke="#8a3c08" stroke-width="1.25"/><rect x="56.400000000000006" y="94.6" width="8.6" height="9.4" rx="1" fill="#f2a012" stroke="#8a3c08" stroke-width="1.1"/><circle cx="98" cy="99.3" r="8" fill="#f8b01c" stroke="#8a3c08" stroke-width="1.25"/><rect x="93.7" y="94.6" width="8.6" height="9.4" rx="1" fill="#f2a012" stroke="#8a3c08" stroke-width="1.1"/><circle cx="135.3" cy="99.3" r="8" fill="#f8b01c" stroke="#8a3c08" stroke-width="1.25"/><rect x="131.0" y="94.6" width="8.6" height="9.4" rx="1" fill="#f2a012" stroke="#8a3c08" stroke-width="1.1"/><circle cx="174" cy="99.3" r="8" fill="#f8b01c" stroke="#8a3c08" stroke-width="1.25"/><rect x="169.7" y="94.6" width="8.6" height="9.4" rx="1" fill="#f2a012" stroke="#8a3c08" stroke-width="1.1"/><rect x="56" y="45.5" width="84.5" height="29.5" fill="#f2a414"/><rect x="56" y="45.5" width="84.5" height="8.5" fill="#f9b622"/><path d="M56,45.5 V75 M140.5,45.5 V75" stroke="#d48c10" stroke-width="1"/><rect x="56" y="54" width="84.5" height="11.5" fill="#f9ac12" stroke="#5a1a0a" stroke-width="1.5"/><path d="M98.2,54 L98.2,65.5" stroke="#5a1a0a" stroke-width="1.4"/><rect x="59.5" y="57.3" width="4.4" height="4.8" rx="1.2" fill="#e88c0e"/><rect x="101.0" y="57.3" width="4.4" height="4.8" rx="1.2" fill="#e88c0e"/><rect x="65.9" y="57.3" width="4.4" height="4.8" rx="1.2" fill="#e88c0e"/><rect x="107.4" y="57.3" width="4.4" height="4.8" rx="1.2" fill="#e88c0e"/><rect x="72.3" y="57.3" width="4.4" height="4.8" rx="1.2" fill="#e88c0e"/><rect x="113.8" y="57.3" width="4.4" height="4.8" rx="1.2" fill="#e88c0e"/><rect x="78.7" y="57.3" width="4.4" height="4.8" rx="1.2" fill="#e88c0e"/><rect x="120.2" y="57.3" width="4.4" height="4.8" rx="1.2" fill="#e88c0e"/><rect x="85.1" y="57.3" width="4.4" height="4.8" rx="1.2" fill="#e88c0e"/><rect x="126.6" y="57.3" width="4.4" height="4.8" rx="1.2" fill="#e88c0e"/><rect x="91.5" y="57.3" width="4.4" height="4.8" rx="1.2" fill="#e88c0e"/><rect x="133.0" y="57.3" width="4.4" height="4.8" rx="1.2" fill="#e88c0e"/><rect x="56" y="65.5" width="84.5" height="9.5" fill="#f5ac1a"/><path d="M56,75 L140.5,75" stroke="#c9800e" stroke-width="1"/><path d="M91,76 L97,73.5 L100,75.5 L104,73.5 L106,77 Z" fill="#5a1a0a" opacity=".7"/><circle cx="11.5" cy="60" r="11" fill="url(#spotG)"/><path d="M0,49 L5,52 L3,60 L6,68 L0,72 Z" fill="#5a1a0a"/><circle cx="184" cy="60" r="10.5" fill="url(#spotG)"/><path d="M194.5,45 L190.5,50 L188.0,60 L190.5,70 L194.5,76 Z" fill="#5a1a0a"/><path d="M193.9,0 L193.9,126" stroke="#5a1a0a" stroke-width="1.4"/><rect x="0" y="0" width="194.5" height="2.4" fill="#3a1206" opacity=".9"/><rect x="0" y="124.2" width="194.5" height="1.8" fill="#3a1206" opacity=".85"/></g>
<g id="lightbar"><rect x="1179" y="352" width="89" height="48.5" fill="url(#mntG)"/><rect x="1179" y="365.8" width="89" height="1.6" fill="#3a3a3a"/><rect x="1179" y="390.2" width="89" height="1.6" fill="#3a3a3a"/><rect x="1211.5" y="410" width="21.5" height="36" fill="url(#boltG)"/><path d="M1211.5,416.0 L1233,414.6" stroke="#6f6f6f" stroke-width="1.3"/><path d="M1211.5,420.4 L1233,419.0" stroke="#6f6f6f" stroke-width="1.3"/><path d="M1211.5,424.8 L1233,423.40000000000003" stroke="#6f6f6f" stroke-width="1.3"/><path d="M1211.5,429.2 L1233,427.8" stroke="#6f6f6f" stroke-width="1.3"/><path d="M1211.5,433.6 L1233,432.20000000000005" stroke="#6f6f6f" stroke-width="1.3"/><path d="M1211.5,438.0 L1233,436.6" stroke="#6f6f6f" stroke-width="1.3"/><path d="M1211.5,442.4 L1233,441.0" stroke="#6f6f6f" stroke-width="1.3"/><path d="M1201.5,404 L1205,401 L1240,401 L1243.5,404 L1243.5,411 L1240,413.5 L1205,413.5 L1201.5,411 Z" fill="url(#boltG)"/><path d="M1214,401 L1214,413.5 M1231,401 L1231,413.5" stroke="#9a9a9a" stroke-width="1"/><rect x="1026" y="158.5" width="391" height="200.5" fill="#151515"/><rect x="1026" y="158.5" width="391" height="37" fill="url(#bandT)"/><rect x="1026" y="164.4" width="391" height="7" fill="url(#bandTx)"/><rect x="1026" y="320" width="391" height="39" fill="url(#bandB)"/><g transform="translate(1027,195)"><use href="#halfLens"/></g><g transform="translate(1416,195) scale(-1,1)"><use href="#halfLens"/></g><circle cx="1060" cy="183" r="7" fill="#3a3a3a"/><circle cx="1060" cy="183" r="6" fill="url(#scrG)"/><circle cx="1060" cy="183" r="2.6" fill="#8a8a8a"/><circle cx="1059.4" cy="182.4" r="1.4" fill="#e5e5e5"/><circle cx="1060" cy="333.5" r="7" fill="#3a3a3a"/><circle cx="1060" cy="333.5" r="6" fill="url(#scrG)"/><circle cx="1060" cy="333.5" r="2.6" fill="#8a8a8a"/><circle cx="1059.4" cy="332.9" r="1.4" fill="#e5e5e5"/><circle cx="1220.5" cy="183" r="7" fill="#3a3a3a"/><circle cx="1220.5" cy="183" r="6" fill="url(#scrG)"/><circle cx="1220.5" cy="183" r="2.6" fill="#8a8a8a"/><circle cx="1219.9" cy="182.4" r="1.4" fill="#e5e5e5"/><circle cx="1220.5" cy="333.5" r="7" fill="#3a3a3a"/><circle cx="1220.5" cy="333.5" r="6" fill="url(#scrG)"/><circle cx="1220.5" cy="333.5" r="2.6" fill="#8a8a8a"/><circle cx="1219.9" cy="332.9" r="1.4" fill="#e5e5e5"/><circle cx="1391.5" cy="183" r="7" fill="#3a3a3a"/><circle cx="1391.5" cy="183" r="6" fill="url(#scrG)"/><circle cx="1391.5" cy="183" r="2.6" fill="#8a8a8a"/><circle cx="1390.9" cy="182.4" r="1.4" fill="#e5e5e5"/><circle cx="1391.5" cy="333.5" r="7" fill="#3a3a3a"/><circle cx="1391.5" cy="333.5" r="6" fill="url(#scrG)"/><circle cx="1391.5" cy="333.5" r="2.6" fill="#8a8a8a"/><circle cx="1390.9" cy="332.9" r="1.4" fill="#e5e5e5"/><path d="M1031,154.5 L1013,154.5 Q1008,155 1006,160 L988.5,210 L988.5,306 L1006,358 Q1008,363 1013,363.5 L1031,363.5 Z" fill="url(#capG2)"/><path d="M1027,205 L1000,213 Q995,215 995,220 L995,296 Q995,301 1000,303 L1027,312 Z" fill="#1a1a1a"/><path d="M1027,205 L1000,213 Q995,215 995,220" fill="none" stroke="#565656" stroke-width="1.5"/><path d="M1031,154.5 L1013,154.5 Q1008,155 1006,160 L999,180" fill="none" stroke="#555" stroke-width="1.5"/><path d="M1413,154.5 L1431,154.5 Q1436,155 1438,160 L1455.5,210 L1455.5,306 L1438,358 Q1436,363 1431,363.5 L1413,363.5 Z" fill="url(#capG2)"/><path d="M1417,205 L1444,213 Q1449,215 1449,220 L1449,296 Q1449,301 1444,303 L1417,312 Z" fill="#1b1b1b"/><path d="M1417,205 L1444,213 Q1449,215 1449,220" fill="none" stroke="#565656" stroke-width="1.5"/><path d="M1413,154.5 L1431,154.5 Q1436,155 1438,160 L1445,180" fill="none" stroke="#555" stroke-width="1.5"/><path d="M1009.5,165 L1003.5,167 L990.5,207" fill="none" stroke="#d5d9dc" stroke-width="1.9" opacity=".92" stroke-linecap="round" stroke-linejoin="round"/><path d="M1003.5,167 L1008.5,168.5 L1006,176.5 L1001,175 Z" fill="#e6e9ec" opacity=".9"/><path d="M990,309 L1004,350 Q1008,361 1014,362.5" fill="none" stroke="#d5d9dc" stroke-width="1.9" opacity=".92" stroke-linecap="round"/><path d="M1003,343 L1007.5,341.5 L1010,349.5 L1005.5,351 Z" fill="#e6e9ec" opacity=".9"/><path d="M1434.5,165 L1440.5,167 L1453.5,207" fill="none" stroke="#d5d9dc" stroke-width="1.9" opacity=".92" stroke-linecap="round" stroke-linejoin="round"/><path d="M1440.5,167 L1435.5,168.5 L1438,176.5 L1443,175 Z" fill="#e6e9ec" opacity=".9"/><path d="M1454,309 L1440,350 Q1436,361 1430,362.5" fill="none" stroke="#d5d9dc" stroke-width="1.9" opacity=".92" stroke-linecap="round"/><path d="M1441,343 L1436.5,341.5 L1434,349.5 L1438.5,351 Z" fill="#e6e9ec" opacity=".9"/></g>
</defs>
<use href="#lightbar"/>
<use href="#lightbar" transform="translate(0,288)"/>

<!-- 45_spade.svg -->
<defs>
<linearGradient id="blueC" x1="0" x2="0" y1="0" y2="1"><stop offset="0" stop-color="#8adcf8"/><stop offset=".25" stop-color="#5ec6ef"/><stop offset=".6" stop-color="#74d2f5"/><stop offset="1" stop-color="#4fb9e6"/></linearGradient>
<linearGradient id="whtC" x1="0" x2="0" y1="0" y2="1"><stop offset="0" stop-color="#f4f7f9"/><stop offset=".4" stop-color="#dfe5ea"/><stop offset=".7" stop-color="#eef2f5"/><stop offset="1" stop-color="#cfd6dd"/></linearGradient>
<g id="blueSp"><path d="M0,-8.8 L28,-8.8 L35,-16 L64,-16 L64,16 L35,16 L28,8.8 L0,8.8 Z" fill="url(#blueC)"/><path d="M2,-6 L27,-6 L27,-2 L2,-2 Z" fill="#a6e6fb" opacity=".8"/><path d="M37,-13 L62,-13 L62,-6 L37,-6 Z" fill="#a6e6fb" opacity=".7"/><path d="M37,4 L62,4 L62,9 L37,9 Z" fill="#9be0f9" opacity=".5"/><path d="M30,-8.8 L30,8.8" stroke="#3fa6d6" stroke-width="1.2" opacity=".7"/><path d="M52,-16 L52,16" stroke="#8fdcf8" stroke-width="1" opacity=".7"/></g>
<g id="whtSp"><path d="M1,-15 L33,-15 L38,-12 L50,-8.5 L77,-8.5 Q79,-8.5 79,-6.5 L79,6.5 Q79,8.5 77,8.5 L50,8.5 L38,12 L33,15 L1,15 Q-1,15 -1,13 L-1,-13 Q-1,-15 1,-15 Z" fill="url(#whtC)" opacity=".96"/><path d="M4,-11 L30,-11 L30,-4 L4,-4 Z" fill="#c4ccd4" opacity=".75"/><path d="M4,4 L30,4 L30,11 L4,11 Z" fill="#c4ccd4" opacity=".75"/><path d="M0,-2.5 L22,-2.5 L22,2.5 L0,2.5 Z" fill="#f9fbfc"/><path d="M33,-9 L47,-5 L47,5 L33,9 Z" fill="#cdd4db" opacity=".8"/><circle cx="40" cy="0" r="2.6" fill="#aab4bd" opacity=".8"/><path d="M52,-5.5 L70,-5.5 L70,5.5 L52,5.5 Z" fill="#e3e8ec"/></g>
</defs>
<use href="#blueSp" transform="translate(894,391.5)"/>
<use href="#blueSp" transform="translate(894,439)"/>
<use href="#blueSp" transform="translate(884,674.5)"/>
<use href="#blueSp" transform="translate(884,730.5)"/>
<use href="#whtSp" transform="translate(978,390.5)"/>
<rect x="1040" y="386.5" width="14" height="8" rx="2" fill="#e86a6a" opacity=".55"/>
<use href="#whtSp" transform="translate(978,440)"/>
<rect x="1040" y="436" width="14" height="8" rx="2" fill="#9aa0a6" opacity=".55"/>
<use href="#whtSp" transform="translate(978.5,676)"/>
<rect x="1040.5" y="672" width="14" height="8" rx="2" fill="#e86a6a" opacity=".55"/>
<use href="#whtSp" transform="translate(978.5,725)"/>
<rect x="1040.5" y="721" width="14" height="8" rx="2" fill="#9aa0a6" opacity=".55"/>
<path d="M992,699 Q1015,705 1043,702" fill="none" stroke="#e8edf2" stroke-width="1" opacity=".7"/>

<!-- 50_legend.svg -->
<g>
<rect x="150.5" y="844.5" width="1187" height="104" rx="8" fill="none" stroke="#a9b6ca" stroke-width="1.5" stroke-dasharray="8.5 4.5" opacity=".85"/>
<g font-family="Liberation Sans, sans-serif">
 <g fill="#000"><circle cx="250" cy="871.3" r="12.5"/><circle cx="250" cy="916" r="12.5"/><circle cx="887.7" cy="876.3" r="12.8"/><circle cx="887.7" cy="917.6" r="12.8"/></g>
 <g fill="#fff" font-weight="bold" font-size="19" text-anchor="middle">
  <text x="250" y="878">1</text><text x="250" y="922.8">2</text><text x="887.7" y="883">3</text><text x="887.7" y="924.4">4</text>
 </g>
 <g fill="#f2f4f8" font-size="26.5">
  <text x="279.5" y="880.5" textLength="193" lengthAdjust="spacingAndGlyphs">Power to switch:</text>
  <text x="277.5" y="926" textLength="187.5" lengthAdjust="spacingAndGlyphs">Relay to Battery:</text>
  <text x="914.5" y="884" textLength="250" lengthAdjust="spacingAndGlyphs">Relay to 1st Light Bar:</text>
  <text x="915.5" y="929" textLength="260" lengthAdjust="spacingAndGlyphs">Relay to 2nd Light Bar:</text>
 </g>
 <g fill="#f5922c" font-weight="bold" font-size="30">
  <text x="482" y="884" textLength="97.5" lengthAdjust="spacingAndGlyphs">6.56FT</text>
  <text x="472" y="928" textLength="97" lengthAdjust="spacingAndGlyphs">2.76FT</text>
  <text x="1175.5" y="886" font-size="32" textLength="77" lengthAdjust="spacingAndGlyphs">6.7FT</text>
  <text x="1186" y="931.5" textLength="61" lengthAdjust="spacingAndGlyphs">10FT</text>
 </g>
</g>
</g>

<!-- 60_labels.svg -->
<g font-family="Liberation Sans, sans-serif" font-weight="bold" fill="#fff" text-anchor="middle">
<circle cx="296" cy="456" r="16.5" fill="#000"/><text x="296" y="466" font-size="28">1</text>
<circle cx="384" cy="672" r="17" fill="#000"/><text x="384" y="682" font-size="28">2</text>
<circle cx="839.5" cy="661" r="17" fill="#000"/><text x="839.5" y="671" font-size="28">3</text>
<circle cx="824" cy="370" r="16.5" fill="#000"/><text x="824" y="380" font-size="28">4</text>
</g>

<!-- 70_panels.svg -->
<defs>
<linearGradient id="pnlL" x1="0" x2="0" y1="0" y2="1"><stop offset="0" stop-color="#cccccc"/><stop offset="1" stop-color="#cccccc"/></linearGradient><linearGradient id="cabLo" gradientUnits="userSpaceOnUse" x1="664" y1="1262" x2="670" y2="1290"><stop offset="0" stop-color="#030303"/><stop offset=".35" stop-color="#1a1a1a"/><stop offset="1" stop-color="#a9a9a9"/></linearGradient>
<linearGradient id="pnlR" x1="0" x2="0" y1="0" y2="1"><stop offset="0" stop-color="#cccccc"/><stop offset="1" stop-color="#cccccc"/></linearGradient>
<linearGradient id="cabSh" x1="0" x2="0" y1="0" y2="1"><stop offset="0" stop-color="#000" stop-opacity="1"/><stop offset="1" stop-color="#000" stop-opacity="0"/></linearGradient>
<filter id="blur4"><feGaussianBlur stdDeviation="4"/></filter>
<filter id="blur6"><feGaussianBlur stdDeviation="7"/></filter>
<clipPath id="clipL"><rect x="66" y="1024" width="672.5" height="457"/></clipPath>
<clipPath id="clipR"><rect x="762.5" y="1024" width="672" height="457"/></clipPath>
</defs>
<!-- LEFT PANEL -->
<rect x="66" y="1024" width="672.5" height="457" fill="url(#pnlL)"/>
<g clip-path="url(#clipL)">
  <!-- light reflection under cable -->
  <path d="M525,1326 L605,1312 L739,1278 L739,1300 L605,1336 L525,1348 Z" fill="#d8d8d8" opacity=".5" filter="url(#blur4)"/>
  <!-- cable lower gradient part -->
  <path d="M520,1292 L605,1284 L647,1273 L739,1249 L739,1272 L605,1305.5 L522,1320.5 Z" fill="url(#cabLo)"/>
  <path d="M522,1320.5 Q570,1312 605,1305.5 Q680,1288 739,1272" fill="none" stroke="#f6f6f6" stroke-width="1.3" opacity=".9"/>
  <!-- cable -->
  <path d="M505,1269 L564,1269 Q590,1267 605,1262 L667,1244 L739,1225 L739,1251 L647,1275 Q620,1284 605,1286 L520,1294 Z" fill="#030303"/>
  <circle cx="616" cy="1279" r="7" fill="#fff" opacity=".8" filter="url(#blur2)"/>
  <circle cx="616" cy="1279" r="2.6" fill="#fff"/>
  <path d="M506,1267 Q528,1290 520,1322 L512,1323 Q520,1292 500,1268 Z" fill="#0a0a0a"/>
  <use href="#rockerBig"/>
</g>
<rect x="66" y="1420.5" width="672.5" height="60.5" fill="#e9822a"/>
<!-- RIGHT PANEL -->
<rect x="762.5" y="1024" width="672" height="457" fill="url(#pnlR)"/>
<rect x="762.5" y="1420.5" width="672" height="60.5" fill="#555555"/>
<!-- captions -->
<g font-family="Liberation Sans, sans-serif" font-size="35" fill="#fff">
<text x="111" y="1462.6" textLength="585" lengthAdjust="spacingAndGlyphs"><tspan font-weight="bold">5 Pin</tspan> on off rocker switch with SPST design</text>
<text x="795.5" y="1462.6" textLength="615" lengthAdjust="spacingAndGlyphs"><tspan font-weight="bold">3 Pin</tspan> toggle switch, the paddle is easy to break</text>
</g>
<!-- badges -->
<g>
<path d="M324,996 L457,996 Q463,996 461.8,1002 L454.6,1037 Q453.4,1042.7 447.4,1042.7 L313,1042.7 Q307,1042.7 308.2,1037 L316.4,1002 Q317.8,996 324,996 Z" fill="#f7a45a" opacity=".85" transform="translate(-3.5,4.5)"/>
<path d="M324,996 L457,996 Q463,996 461.8,1002 L454.6,1037 Q453.4,1042.7 447.4,1042.7 L313,1042.7 Q307,1042.7 308.2,1037 L316.4,1002 Q317.8,996 324,996 Z" fill="#7a4a2a" opacity=".5" transform="translate(2.5,2.5)"/>
<path d="M324,996 L457,996 Q463,996 461.8,1002 L454.6,1037 Q453.4,1042.7 447.4,1042.7 L313,1042.7 Q307,1042.7 308.2,1037 L316.4,1002 Q317.8,996 324,996 Z" fill="#ff8418"/>
<text x="318.7" y="1032.7" font-family="Liberation Sans, sans-serif" font-weight="bold" font-size="33.5" fill="#fff" textLength="134.6" lengthAdjust="spacingAndGlyphs" stroke="#fff" stroke-width="1.2" stroke-linejoin="round">NILIGHT</text>
<path d="M1050,991.7 L1185,991.7 Q1191,991.7 1189.8,997.7 L1183.4,1032 Q1182.2,1037.7 1176.2,1037.7 L1039.6,1037.7 Q1033.6,1037.7 1034.8,1032 L1042.4,997.7 Q1043.8,991.7 1050,991.7 Z" fill="#8e8e8e" opacity=".85" transform="translate(-4,5)"/>
<path d="M1050,991.7 L1185,991.7 Q1191,991.7 1189.8,997.7 L1183.4,1032 Q1182.2,1037.7 1176.2,1037.7 L1039.6,1037.7 Q1033.6,1037.7 1034.8,1032 L1042.4,997.7 Q1043.8,991.7 1050,991.7 Z" fill="#545454"/>
<text x="1046" y="1029" font-family="Liberation Sans, sans-serif" font-weight="bold" font-size="34.5" fill="#fff" textLength="132" lengthAdjust="spacingAndGlyphs" stroke="#fff" stroke-width="1.3" stroke-linejoin="round">OTHERS</text>
</g>
<!-- thumbs -->
<circle cx="693" cy="1069.2" r="26" fill="#4aae30"/>
<g fill="#f4fff0">
<rect x="681" y="1065.2" width="6.6" height="17.6"/>
<path d="M689,1065.4 L692,1064.6 L693.2,1057.2 Q694.6,1055.4 696.2,1057.2 L697.2,1064.4 L704,1064.8 Q705.2,1065 705,1066.4 L702.6,1081.6 Q702.2,1082.8 701,1082.8 L689,1082.8 Z"/>
</g>
<circle cx="1385" cy="1064.2" r="24" fill="#555555"/>
<g fill="#ffffff">
<rect x="1393.3" y="1053" width="4.9" height="17.3"/>
<path d="M1391.4,1053 L1391.4,1070.3 L1388,1070.6 L1387.2,1079.6 Q1385.4,1081.6 1383.6,1079.6 L1382.4,1070.6 L1375,1070.3 Q1373.6,1070 1374,1068.6 L1377,1054.2 Q1377.4,1053 1378.6,1053 Z"/>
</g>

<!-- 72_toggle.svg -->
<defs>
<radialGradient id="tgFace" cx=".45" cy=".4" r=".65"><stop offset="0" stop-color="#ff2238"/><stop offset=".6" stop-color="#ee1428"/><stop offset="1" stop-color="#c60c1c"/></radialGradient>
<linearGradient id="tgBody" x1="0" x2="0" y1="0" y2="1"><stop offset="0" stop-color="#2e2e2e"/><stop offset=".25" stop-color="#1a1a1a"/><stop offset=".7" stop-color="#0c0c0c"/><stop offset="1" stop-color="#1c1c1c"/></linearGradient>
<linearGradient id="tgFl" x1="0" x2="1" y1="0" y2="1"><stop offset="0" stop-color="#3a3a3a"/><stop offset=".4" stop-color="#1a1a1a"/><stop offset="1" stop-color="#090909"/></linearGradient>
<linearGradient id="cabLoR" gradientUnits="userSpaceOnUse" x1="1340" y1="1231" x2="1346" y2="1251"><stop offset="0" stop-color="#030303"/><stop offset=".3" stop-color="#181818"/><stop offset="1" stop-color="#a8a8a8"/></linearGradient>
</defs>
<g clip-path="url(#clipR)">
  <!-- floor shadow -->
  <ellipse cx="1085" cy="1337" rx="62" ry="9" fill="#000" opacity=".45" filter="url(#blur6)"/>
  <path d="M1196,1288 L1267,1274 L1353,1250 L1434,1231 L1434,1246 L1353,1268 L1267,1292 L1198,1304 Z" fill="#000" opacity=".3" filter="url(#blur4)"/>
  <!-- cable lower gradient -->
  <path d="M1190,1255 L1275,1252.5 L1301,1241 L1434,1206.5 L1434,1226 L1353,1245 L1266.7,1269 L1194,1283 Z" fill="url(#cabLoR)"/>
  <path d="M1194,1283 L1266.7,1269 L1353,1245 L1434,1226" fill="none" stroke="#ececec" stroke-width="1.1" opacity=".85"/>
  <!-- cable -->
  <path d="M1188,1237 Q1225,1234 1258,1232 Q1282,1228 1301,1219 L1434,1180.8 L1434,1209 L1301,1244 Q1286,1252 1275,1255 L1192,1258 Q1196,1248 1188,1237 Z" fill="#030303"/>
  <circle cx="1278" cy="1245" r="6.5" fill="#fff" opacity=".5" filter="url(#blur2)"/>
  <circle cx="1278" cy="1245" r="2.2" fill="#ddd" opacity=".85"/>
  <!-- terminals -->
  <path d="M1113,1212 Q1150,1210 1172,1220 Q1180,1226 1174,1237 L1136,1230 Z" fill="#ebebfa"/>
  <path d="M1150,1216 Q1168,1218 1174,1226 L1170,1235 L1152,1228 Z" fill="#f0b4bc" opacity=".85"/>
  <path d="M1174,1233 Q1184,1233 1188,1241 L1184,1246 L1172,1240 Z" fill="#dc1a1a"/>
  <path d="M1130,1238 L1180,1244 Q1192,1248 1190,1258 L1186,1263 L1130,1262 Z" fill="#f1f1fc"/>
  <path d="M1140,1244 L1172,1248 L1172,1256 L1140,1256 Z" fill="#cfcff0" opacity=".8"/>
  <path d="M1180,1258 L1194,1256 L1196,1268 L1184,1270 Z" fill="#111"/>
  <path d="M1134,1284 L1178,1270 Q1190,1266 1193,1272 Q1194,1279 1184,1284 L1168,1291 L1134,1295 Z" fill="#eeeefb"/>
  <path d="M1144,1284 L1176,1274 L1180,1280 L1146,1290 Z" fill="#c8c8ee" opacity=".8"/>
  <!-- body cylinder -->
  <path d="M1060,1192 L1090,1197 Q1118,1208 1126,1228 Q1140,1262 1128,1300 Q1120,1318 1096,1326 L1060,1333 Z" fill="url(#tgBody)"/>
  <path d="M1106,1264 L1122,1262 L1123,1272 L1107,1275 Z" fill="#2c2c2c"/>
  <path d="M1094,1200 Q1112,1262 1098,1324" fill="none" stroke="#3a3a3a" stroke-width="1.5"/>
  <!-- flange -->
  <ellipse cx="1045" cy="1262" rx="52" ry="72" fill="url(#tgFl)" transform="rotate(-4 1045 1262)"/>
  <ellipse cx="1042" cy="1262" rx="49" ry="68" fill="none" stroke="#3c3c3c" stroke-width="1.5" transform="rotate(-4 1042 1262)"/>
  <ellipse cx="1036" cy="1262" rx="47" ry="63" fill="#141414" transform="rotate(-4 1036 1262)"/>
  <ellipse cx="1034" cy="1262" rx="46" ry="61" fill="none" stroke="#333" stroke-width="1.3" transform="rotate(-4 1034 1262)"/>
  <!-- red ring -->
  <ellipse cx="1023.5" cy="1264.5" rx="42.5" ry="55.5" fill="#e31a26" transform="rotate(-4 1023.5 1264.5)"/>
  <ellipse cx="1023" cy="1264.5" rx="38" ry="50.5" fill="#4a0606" transform="rotate(-4 1023 1264.5)"/>
  <ellipse cx="1022" cy="1264" rx="35" ry="46" fill="#8a0a10" transform="rotate(-4 1022 1264)"/>
  <ellipse cx="1021" cy="1262.5" rx="31.5" ry="38.5" fill="url(#tgFace)" transform="rotate(-4 1021 1262.5)"/>
  <path d="M1018.7,1238 L1018.7,1257" stroke="#fff" stroke-width="2.2" stroke-linecap="round"/>
  <ellipse cx="1018.7" cy="1281" rx="6.3" ry="8.5" fill="none" stroke="#fff" stroke-width="1.7"/>
</g>
</svg>
</body></html>
